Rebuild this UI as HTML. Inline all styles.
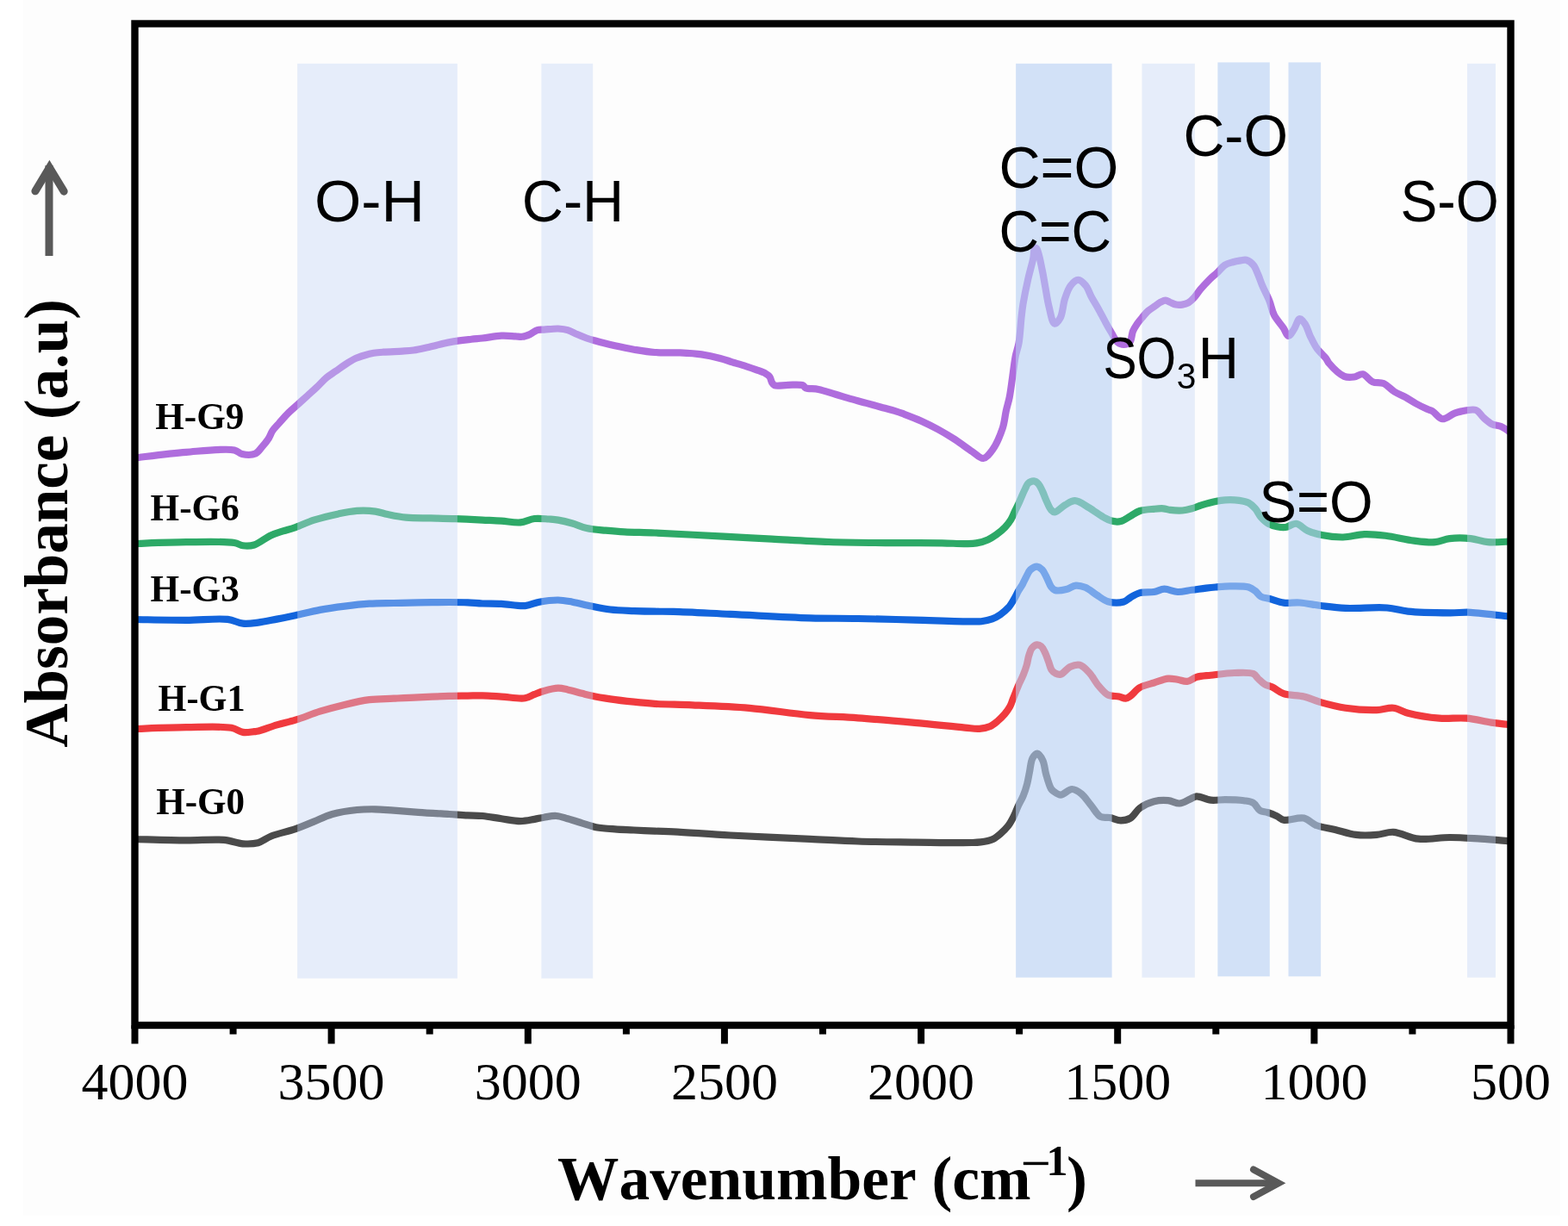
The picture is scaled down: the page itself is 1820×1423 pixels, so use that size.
<!DOCTYPE html>
<html><head><meta charset="utf-8"><title>FTIR spectra</title>
<style>html,body{margin:0;padding:0;background:#ffffff;overflow:hidden;} svg{display:block;} text{font-kerning:none;}</style>
</head><body>
<svg width="1820" height="1423" viewBox="0 0 1820 1423">
<rect x="0" y="0" width="1820" height="1423" fill="#ffffff"/>
<rect x="27" y="0" width="1784" height="1411" fill="#fdfdfd"/>
<path d="M156.5,531.5 C166.4,530.4 196.4,526.3 216.0,524.8 C234.9,523.3 261.5,520.1 272.0,522.4 C276.5,523.4 277.5,526.2 281.0,527.0 C285.4,528.0 292.5,528.3 296.5,526.5 C299.9,525.0 301.7,521.5 304.2,518.6 C306.9,515.6 309.8,512.0 311.9,508.7 C313.7,505.8 314.4,502.8 316.3,500.0 C318.4,496.9 321.2,494.3 324.0,491.1 C327.3,487.4 331.2,482.7 335.0,479.0 C338.6,475.4 342.3,472.4 346.0,469.1 C349.7,465.8 353.3,462.5 357.0,459.2 C360.6,455.9 364.3,452.7 367.9,449.3 C371.6,445.8 375.1,441.6 378.9,438.4 C382.4,435.4 386.2,433.3 389.9,430.7 C393.6,428.1 397.2,425.4 400.9,423.0 C404.5,420.6 408.1,418.2 411.9,416.4 C415.5,414.7 419.2,413.6 422.9,412.5 C426.5,411.4 430.1,410.4 433.8,409.8 C437.4,409.2 440.5,409.0 444.8,408.7 C450.9,408.2 460.4,408.0 466.8,407.6 C471.8,407.3 475.3,407.2 480.0,406.5 C485.5,405.7 491.3,404.3 497.7,402.9 C505.3,401.2 514.1,398.6 522.4,397.1 C530.6,395.6 540.2,394.6 547.1,393.8 C552.1,393.2 555.1,393.1 560.0,392.5 C566.4,391.8 575.2,390.0 582.0,389.7 C587.9,389.4 594.0,390.1 598.5,390.3 C601.6,390.5 603.6,391.1 606.2,390.8 C609.1,390.5 612.1,389.3 615.0,388.1 C618.0,386.8 620.8,384.0 623.7,383.1 C626.3,382.3 628.4,382.8 631.4,382.6 C635.9,382.3 643.0,381.3 647.9,381.5 C651.9,381.7 655.3,382.0 658.9,383.1 C662.6,384.2 666.2,386.5 669.9,388.1 C673.5,389.7 677.2,391.2 680.9,392.5 C684.5,393.8 687.6,394.6 691.9,395.8 C697.9,397.5 706.5,399.6 713.8,401.3 C721.1,402.9 728.3,404.4 735.8,405.7 C743.7,407.0 751.5,408.4 760.0,409.0 C769.3,409.7 780.0,409.0 789.4,409.4 C798.0,409.8 806.2,410.2 814.2,411.4 C821.7,412.5 829.6,414.3 836.0,416.0 C841.2,417.3 845.1,418.8 850.0,420.3 C855.3,421.9 861.6,423.7 866.5,425.3 C870.6,426.6 873.8,427.7 877.5,429.1 C881.2,430.5 885.6,431.8 888.5,433.5 C890.6,434.7 892.3,435.8 893.5,437.5 C894.8,439.3 894.9,442.3 896.0,444.0 C896.9,445.4 897.4,446.6 899.0,447.3 C902.1,448.6 909.6,446.8 915.0,446.8 C920.6,446.8 928.8,445.9 932.0,447.3 C933.6,448.0 933.4,449.5 935.0,450.2 C938.0,451.6 944.7,450.8 950.0,451.9 C956.2,453.2 963.5,455.9 970.0,457.8 C976.2,459.6 982.0,461.4 988.0,463.1 C993.9,464.8 999.7,466.3 1005.5,467.9 C1011.3,469.5 1017.2,471.1 1023.0,472.7 C1028.9,474.3 1035.8,476.1 1040.7,477.6 C1044.2,478.7 1046.1,479.5 1049.7,480.8 C1055.0,482.8 1062.9,485.8 1069.4,488.7 C1076.0,491.7 1082.5,494.9 1089.0,498.5 C1095.6,502.1 1102.2,506.1 1108.7,510.3 C1115.3,514.6 1122.5,520.2 1128.4,524.1 C1133.1,527.2 1137.2,532.4 1141.2,532.0 C1145.1,531.6 1148.7,526.6 1152.0,522.1 C1156.6,515.9 1161.2,504.6 1163.9,496.5 C1166.1,489.7 1166.4,483.1 1167.8,476.9 C1169.0,471.3 1170.6,466.7 1171.7,461.1 C1172.9,454.9 1173.7,448.5 1174.7,441.4 C1175.9,433.0 1177.1,421.8 1178.6,413.9 C1179.8,407.9 1181.5,404.2 1182.6,398.1 C1184.0,389.8 1184.6,376.9 1185.5,368.6 C1186.2,362.5 1186.5,358.9 1187.5,352.8 C1188.9,344.5 1191.3,332.6 1193.4,323.3 C1195.3,315.0 1198.0,306.2 1199.3,299.7 C1200.2,295.1 1199.7,288.9 1201.0,288.0 C1201.6,287.6 1202.5,287.8 1203.2,288.5 C1205.6,290.9 1208.1,306.3 1209.8,314.0 C1211.2,320.4 1211.8,325.2 1213.0,331.5 C1214.4,338.9 1215.6,348.1 1217.5,355.7 C1219.3,362.7 1221.1,374.8 1224.0,375.5 C1225.9,376.0 1228.9,372.1 1230.7,368.9 C1233.5,364.0 1233.8,353.5 1236.0,346.9 C1237.9,341.2 1239.7,335.3 1242.7,331.5 C1245.1,328.4 1248.6,324.9 1251.5,324.9 C1254.4,324.9 1257.8,328.6 1260.3,331.5 C1263.1,334.9 1264.5,340.3 1266.9,344.7 C1269.3,349.1 1272.0,353.2 1274.6,357.9 C1277.5,363.1 1280.6,369.4 1283.4,374.4 C1285.7,378.6 1287.7,382.2 1290.0,386.0 C1292.3,389.8 1294.3,394.8 1297.1,397.1 C1299.2,398.9 1301.9,400.0 1304.3,400.0 C1306.7,400.0 1309.7,399.0 1311.4,397.1 C1313.7,394.5 1313.4,388.1 1315.0,384.3 C1316.4,381.1 1318.2,378.4 1320.0,375.7 C1321.8,373.1 1323.6,371.0 1325.7,368.6 C1327.9,366.0 1330.4,362.9 1332.9,360.7 C1335.2,358.7 1337.6,357.4 1340.0,355.7 C1342.4,354.0 1344.8,351.9 1347.1,350.7 C1349.1,349.7 1351.0,348.6 1352.9,348.6 C1354.6,348.6 1356.1,349.9 1357.9,350.7 C1360.1,351.6 1362.6,353.1 1365.0,353.6 C1367.3,354.1 1369.8,354.0 1372.1,353.6 C1374.5,353.2 1377.0,352.7 1379.3,351.4 C1381.8,350.0 1384.1,347.5 1386.4,345.0 C1388.9,342.3 1390.8,338.9 1393.5,335.7 C1396.6,332.0 1400.6,327.7 1404.0,324.3 C1407.0,321.4 1409.9,319.2 1412.8,316.5 C1415.8,313.7 1418.4,309.8 1421.6,307.7 C1424.5,305.8 1427.9,305.1 1431.0,304.2 C1434.0,303.3 1437.2,302.8 1440.0,302.4 C1442.3,302.1 1444.3,301.2 1446.5,301.8 C1449.2,302.5 1452.5,304.9 1454.7,307.5 C1457.2,310.3 1458.5,314.6 1460.2,318.5 C1462.1,322.9 1463.6,327.8 1465.7,332.7 C1468.0,338.0 1471.2,343.6 1473.4,349.2 C1475.6,354.6 1476.2,360.5 1478.9,365.7 C1481.7,371.1 1486.9,376.5 1489.9,381.0 C1492.1,384.3 1493.4,389.7 1495.4,389.9 C1497.4,390.1 1499.9,385.2 1502.0,382.2 C1504.4,378.7 1506.1,370.5 1508.6,370.1 C1510.6,369.8 1513.3,373.9 1515.2,376.7 C1517.5,380.2 1518.6,385.5 1520.7,389.9 C1523.0,394.6 1525.3,399.8 1528.4,404.2 C1531.5,408.6 1536.8,413.0 1539.3,416.3 C1540.8,418.4 1540.8,419.6 1542.6,421.7 C1546.0,425.7 1554.7,434.6 1560.3,436.9 C1564.2,438.5 1568.1,438.0 1571.7,437.5 C1575.2,437.1 1578.5,433.7 1581.8,434.3 C1585.7,435.0 1589.1,441.4 1593.2,443.2 C1597.1,444.9 1601.8,443.4 1605.8,445.1 C1610.3,447.0 1614.2,451.9 1618.5,454.6 C1622.6,457.1 1626.9,458.6 1631.1,460.9 C1635.3,463.2 1639.4,466.2 1643.7,468.5 C1647.9,470.8 1652.9,473.2 1656.4,474.8 C1658.8,475.9 1660.4,476.0 1662.7,477.3 C1666.1,479.2 1670.0,485.7 1674.1,486.2 C1678.4,486.7 1684.2,481.2 1688.0,479.8 C1690.5,478.9 1691.6,478.4 1694.3,477.9 C1698.9,477.0 1708.4,474.3 1713.2,476.0 C1717.1,477.4 1718.9,482.2 1722.1,484.9 C1725.3,487.7 1728.7,490.8 1732.2,492.5 C1735.4,494.0 1739.0,493.6 1742.3,495.0 C1746.1,496.6 1751.6,500.8 1753.5,502.0" fill="none" stroke="#AF6DDD" stroke-width="8.2" stroke-linejoin="round" stroke-linecap="butt"/>
<path d="M156.5,631.0 C166.4,630.7 196.5,629.4 216.0,629.2 C234.9,629.0 261.0,628.1 272.0,630.0 C276.8,630.8 278.4,632.8 282.0,633.3 C286.0,633.8 290.4,633.9 295.0,632.5 C301.0,630.7 308.2,624.2 314.3,621.4 C319.3,619.1 323.8,618.0 328.6,616.4 C333.3,614.9 337.7,613.9 342.9,612.1 C349.4,609.9 356.6,606.1 364.3,603.6 C373.1,600.8 384.0,598.2 392.9,596.4 C400.5,594.8 407.1,593.4 414.3,592.9 C421.4,592.4 429.3,592.7 435.7,593.6 C441.0,594.3 444.7,596.0 450.0,597.1 C456.4,598.4 463.7,600.0 471.4,600.7 C480.2,601.5 490.5,601.2 500.0,601.4 C509.5,601.6 518.8,601.7 528.6,602.1 C538.8,602.5 550.5,603.1 560.0,603.6 C568.0,604.0 574.7,604.2 582.0,604.7 C589.3,605.2 597.3,607.0 604.0,606.4 C609.9,605.9 614.9,602.6 620.4,602.0 C625.8,601.4 632.0,602.2 636.9,602.5 C640.9,602.8 643.9,602.9 647.9,603.6 C652.9,604.4 658.9,605.9 664.4,607.5 C669.9,609.1 674.9,611.7 680.9,613.0 C687.6,614.5 695.6,615.0 702.9,615.7 C710.2,616.4 716.6,617.0 724.8,617.4 C735.1,618.0 745.9,617.9 760.0,618.5 C781.3,619.4 815.7,621.4 840.0,622.7 C860.3,623.8 876.5,624.7 895.9,625.7 C917.0,626.8 939.9,628.3 961.9,629.0 C983.9,629.7 1005.8,629.9 1027.8,630.1 C1049.8,630.3 1076.7,630.0 1093.7,630.3 C1104.4,630.5 1112.7,631.2 1120.0,631.1 C1125.2,631.0 1129.0,631.2 1133.4,630.4 C1137.9,629.6 1142.7,628.2 1146.7,626.4 C1150.4,624.8 1153.5,622.7 1156.7,620.4 C1160.1,617.9 1163.8,614.8 1166.7,611.8 C1169.3,609.0 1171.5,606.2 1173.4,603.1 C1175.3,600.0 1176.6,596.2 1178.1,593.1 C1179.5,590.3 1180.8,587.9 1182.1,585.1 C1183.5,582.1 1184.7,578.8 1186.1,575.7 C1187.4,572.7 1188.8,569.6 1190.1,567.0 C1191.2,564.8 1191.8,562.4 1193.4,561.0 C1195.1,559.5 1198.0,558.2 1200.1,558.4 C1202.0,558.6 1203.9,560.1 1205.4,561.7 C1207.3,563.8 1208.6,567.3 1210.1,570.4 C1211.8,573.9 1213.1,578.1 1214.8,581.7 C1216.4,585.2 1218.1,589.6 1220.0,591.7 C1221.3,593.1 1222.3,594.4 1224.0,594.4 C1227.0,594.4 1232.1,588.5 1236.2,586.2 C1240.0,584.1 1243.5,581.1 1247.7,581.2 C1252.7,581.3 1258.8,586.3 1264.2,589.4 C1269.8,592.6 1275.9,597.5 1280.7,600.2 C1284.2,602.1 1286.7,603.8 1290.0,604.6 C1293.4,605.5 1297.4,605.9 1301.0,605.1 C1304.8,604.2 1308.3,601.1 1312.0,599.1 C1315.7,597.1 1318.8,594.4 1323.0,593.0 C1327.8,591.4 1334.6,591.2 1339.5,590.8 C1343.5,590.4 1347.1,590.0 1350.4,590.3 C1353.2,590.5 1355.1,591.5 1358.1,591.9 C1362.1,592.4 1368.0,592.8 1372.4,592.5 C1376.3,592.2 1379.8,591.3 1383.4,590.3 C1387.1,589.3 1390.3,587.7 1394.4,586.4 C1399.3,584.9 1405.9,583.0 1410.9,582.0 C1414.9,581.2 1417.9,580.6 1421.9,580.4 C1426.8,580.1 1433.5,580.2 1438.4,580.9 C1442.4,581.5 1446.1,582.1 1449.3,583.7 C1452.3,585.3 1454.7,587.7 1457.0,590.3 C1459.5,593.1 1461.0,597.3 1463.6,600.2 C1466.2,603.1 1469.2,606.1 1472.4,607.9 C1475.4,609.6 1479.0,610.5 1482.3,611.2 C1485.5,611.9 1488.6,612.4 1492.0,612.0 C1495.9,611.5 1500.4,607.3 1504.5,607.8 C1509.0,608.3 1512.9,613.8 1517.7,616.0 C1522.8,618.3 1528.1,619.8 1534.2,621.0 C1541.5,622.5 1550.7,623.6 1558.9,623.5 C1567.1,623.4 1575.4,620.5 1583.6,620.2 C1591.8,619.9 1599.5,620.7 1608.3,621.8 C1618.5,623.0 1631.1,626.4 1641.3,627.6 C1650.1,628.7 1658.6,629.9 1666.0,629.2 C1672.1,628.7 1676.4,625.8 1682.5,625.1 C1689.9,624.2 1699.5,624.3 1707.2,625.1 C1714.2,625.8 1719.9,628.6 1727.0,629.2 C1735.2,629.9 1749.1,628.5 1753.5,628.4" fill="none" stroke="#2DA967" stroke-width="8.2" stroke-linejoin="round" stroke-linecap="butt"/>
<path d="M156.5,719.0 C166.4,719.1 197.2,719.8 216.0,719.8 C232.9,719.8 252.3,717.4 264.3,718.9 C271.7,719.8 276.0,723.1 281.9,723.7 C287.7,724.3 293.3,723.4 299.5,722.6 C306.4,721.8 314.1,720.0 321.4,718.6 C328.6,717.2 335.2,715.9 342.9,714.3 C351.7,712.4 361.9,709.7 371.4,707.9 C380.9,706.1 390.5,704.8 400.0,703.6 C409.5,702.4 419.1,701.3 428.6,700.7 C438.1,700.1 447.6,700.2 457.1,700.0 C466.6,699.8 475.6,699.5 485.7,699.3 C496.9,699.1 511.0,699.0 521.4,699.0 C529.5,699.0 536.1,699.0 542.9,699.3 C548.9,699.6 553.9,700.2 560.0,700.5 C566.9,700.8 574.3,700.5 582.0,700.9 C590.7,701.3 601.6,703.8 609.5,703.1 C615.8,702.5 620.1,699.8 626.0,698.7 C632.7,697.5 641.1,696.4 647.9,696.5 C653.8,696.6 658.5,697.7 664.4,698.7 C671.2,699.9 679.1,702.1 686.4,703.6 C693.7,705.1 700.6,706.6 708.4,707.5 C717.0,708.5 726.9,708.7 735.8,709.1 C744.1,709.4 752.1,709.6 760.0,709.7 C767.5,709.8 772.6,709.6 781.8,709.9 C797.8,710.3 823.9,711.8 847.7,712.9 C875.9,714.2 913.1,716.5 940.0,717.3 C961.0,717.9 976.5,717.6 995.9,718.0 C1017.0,718.4 1039.9,719.0 1061.9,719.6 C1083.9,720.2 1115.0,721.3 1127.8,721.4 C1133.1,721.4 1135.2,721.7 1139.0,721.2 C1143.1,720.7 1147.8,719.8 1151.6,718.4 C1155.1,717.1 1158.0,715.4 1161.1,713.3 C1164.4,711.0 1167.9,708.1 1170.6,705.1 C1173.1,702.2 1175.0,698.8 1176.9,695.6 C1178.8,692.5 1180.3,689.1 1182.0,686.1 C1183.6,683.2 1185.5,680.6 1187.0,677.9 C1188.4,675.3 1189.4,672.9 1190.8,670.3 C1192.3,667.4 1193.6,663.5 1195.9,661.4 C1198.0,659.5 1201.1,657.5 1203.5,657.6 C1205.7,657.7 1208.0,659.6 1209.8,661.4 C1211.9,663.6 1213.3,667.2 1214.9,670.3 C1216.7,673.7 1218.1,678.4 1220.0,681.0 C1221.4,682.8 1222.4,684.3 1224.5,685.0 C1227.6,686.0 1233.6,685.0 1237.7,684.0 C1241.6,683.1 1245.0,679.9 1248.7,679.6 C1252.3,679.3 1256.0,680.3 1259.7,681.8 C1264.1,683.6 1268.5,687.7 1272.9,690.5 C1277.2,693.2 1281.1,696.8 1286.0,698.2 C1291.4,699.7 1299.6,699.8 1304.3,698.5 C1307.6,697.6 1309.2,695.2 1312.0,693.6 C1315.3,691.7 1318.8,689.2 1323.0,688.1 C1327.8,686.8 1334.5,687.8 1339.5,687.0 C1343.9,686.3 1347.2,683.8 1351.5,683.7 C1356.3,683.6 1361.7,686.8 1366.9,687.0 C1372.3,687.2 1377.9,685.5 1383.4,684.8 C1388.9,684.1 1395.0,683.2 1399.9,682.6 C1403.9,682.1 1406.9,681.8 1410.9,681.5 C1415.8,681.1 1421.5,680.4 1427.4,680.4 C1434.2,680.3 1444.0,679.9 1449.3,681.5 C1452.7,682.5 1454.6,684.1 1457.0,685.9 C1459.4,687.7 1460.9,691.0 1463.6,692.5 C1466.6,694.2 1470.6,694.1 1474.6,695.2 C1479.3,696.5 1484.6,698.9 1490.0,699.6 C1495.9,700.4 1502.0,699.0 1508.6,699.5 C1516.2,700.0 1524.4,702.0 1532.8,703.0 C1542.0,704.1 1550.9,705.4 1561.8,705.9 C1575.8,706.5 1596.8,704.4 1610.1,705.5 C1619.6,706.3 1624.8,708.6 1634.3,709.6 C1647.6,711.0 1669.3,711.2 1682.7,711.3 C1692.1,711.4 1697.5,710.4 1706.9,710.8 C1719.9,711.4 1745.7,715.0 1753.5,715.8" fill="none" stroke="#1264DC" stroke-width="8.2" stroke-linejoin="round" stroke-linecap="butt"/>
<path d="M156.5,846.0 C166.4,845.7 196.8,844.4 216.0,844.2 C234.1,844.0 257.1,842.6 268.7,844.8 C274.7,846.0 277.4,849.2 281.9,849.9 C286.2,850.6 291.7,849.5 295.0,849.2 C297.1,849.0 297.8,849.1 300.0,848.6 C304.7,847.5 314.2,843.6 321.4,841.4 C328.5,839.3 335.3,838.0 342.9,835.7 C351.8,833.0 361.8,828.7 371.4,825.7 C380.9,822.8 390.4,820.2 400.0,817.9 C409.5,815.6 419.0,813.3 428.6,812.1 C438.1,810.9 447.6,811.2 457.1,810.7 C466.6,810.2 475.6,809.7 485.7,809.3 C496.9,808.8 511.0,808.2 521.4,807.9 C529.5,807.7 536.1,807.7 542.9,807.6 C548.9,807.5 553.9,807.2 560.0,807.3 C566.9,807.4 574.3,808.1 582.0,808.6 C590.7,809.1 602.5,811.4 609.5,810.3 C614.1,809.6 616.7,807.3 620.4,805.9 C624.0,804.5 627.3,803.1 631.4,802.0 C636.3,800.6 642.9,798.8 647.9,798.7 C651.9,798.6 654.9,799.6 658.9,800.4 C663.9,801.4 670.4,803.5 675.4,804.8 C679.4,805.8 682.1,806.6 686.4,807.5 C692.5,808.8 700.6,810.2 708.4,811.4 C717.0,812.7 726.9,813.8 735.8,814.7 C744.1,815.6 750.7,816.3 760.0,816.9 C772.4,817.7 787.6,817.6 803.7,818.3 C823.4,819.1 847.4,819.9 869.7,821.8 C892.8,823.8 917.9,828.2 940.0,830.1 C959.7,831.8 976.5,831.9 995.9,833.3 C1017.0,834.8 1040.6,836.9 1061.9,838.8 C1081.9,840.6 1106.4,843.4 1120.0,844.6 C1127.3,845.2 1131.7,846.2 1136.9,845.8 C1141.4,845.4 1145.9,844.5 1149.5,842.9 C1152.7,841.5 1155.2,839.3 1157.9,837.0 C1160.8,834.5 1163.9,831.4 1166.4,828.5 C1168.7,825.8 1170.7,823.0 1172.3,820.1 C1173.8,817.4 1174.5,814.5 1175.6,811.7 C1176.7,808.9 1177.9,806.0 1179.0,803.2 C1180.1,800.4 1181.1,797.8 1182.4,794.8 C1183.9,791.4 1186.0,787.6 1187.5,783.8 C1189.1,780.0 1190.6,775.9 1191.7,772.0 C1192.8,768.3 1193.1,764.5 1194.2,761.1 C1195.2,758.1 1195.9,754.8 1197.6,752.6 C1199.1,750.7 1201.5,748.7 1203.5,748.4 C1205.2,748.2 1207.1,749.0 1208.5,750.1 C1210.3,751.5 1211.4,754.3 1212.7,756.9 C1214.3,760.0 1215.7,764.3 1217.0,767.8 C1218.3,771.1 1218.9,775.1 1220.5,777.5 C1221.7,779.3 1223.3,780.6 1225.0,781.5 C1226.8,782.4 1228.9,783.2 1231.1,782.7 C1234.4,781.9 1238.2,775.8 1242.1,774.0 C1245.6,772.4 1249.6,771.0 1253.1,771.8 C1257.0,772.7 1260.7,776.9 1264.1,780.5 C1268.1,784.7 1271.2,791.4 1275.1,795.9 C1278.6,799.9 1281.9,804.4 1286.0,806.5 C1289.8,808.4 1295.1,807.7 1298.8,808.5 C1301.7,809.1 1304.2,810.9 1306.5,810.7 C1308.5,810.5 1310.0,809.3 1312.0,807.9 C1315.2,805.7 1318.7,800.5 1323.0,798.0 C1327.7,795.3 1334.0,794.2 1339.5,792.5 C1345.0,790.8 1350.9,788.1 1355.9,787.6 C1359.9,787.2 1363.2,788.2 1366.9,788.7 C1370.6,789.3 1374.3,791.3 1377.9,790.9 C1381.6,790.5 1384.8,787.1 1388.9,785.9 C1393.8,784.5 1399.2,784.4 1405.4,783.7 C1413.4,782.8 1424.2,781.2 1432.9,781.0 C1440.6,780.8 1450.1,780.0 1454.8,782.1 C1457.6,783.3 1458.3,785.7 1460.3,787.6 C1462.6,789.7 1465.2,792.5 1468.0,794.2 C1470.7,795.8 1473.6,796.0 1476.8,797.5 C1480.8,799.4 1484.8,803.4 1490.0,805.2 C1496.5,807.5 1506.0,806.7 1513.4,808.5 C1520.3,810.1 1525.6,813.1 1532.8,815.1 C1541.4,817.5 1551.5,820.2 1561.8,821.7 C1573.1,823.4 1587.8,824.4 1598.0,824.1 C1605.5,823.9 1611.2,821.0 1617.4,821.7 C1623.3,822.3 1627.5,825.9 1634.3,827.7 C1644.0,830.2 1658.9,832.7 1670.6,833.7 C1681.4,834.6 1691.8,832.8 1702.0,833.7 C1711.9,834.5 1721.9,837.3 1731.0,838.6 C1739.0,839.7 1749.8,840.8 1753.5,841.2" fill="none" stroke="#F03A3E" stroke-width="8.2" stroke-linejoin="round" stroke-linecap="butt"/>
<path d="M156.5,974.0 C166.4,974.2 197.7,975.3 216.0,975.4 C231.7,975.5 247.8,973.8 259.9,974.9 C268.5,975.7 274.9,978.8 281.9,979.3 C288.1,979.7 294.0,979.7 299.5,978.2 C304.9,976.7 308.8,972.9 314.8,970.5 C322.6,967.4 334.2,965.1 342.9,962.1 C350.6,959.4 357.2,956.4 364.3,953.6 C371.4,950.7 377.9,947.2 385.7,945.0 C394.4,942.5 405.4,940.9 414.3,940.0 C421.9,939.2 428.6,939.2 435.7,939.3 C442.8,939.4 449.5,940.2 457.1,940.7 C465.9,941.3 475.6,942.2 485.7,942.9 C496.9,943.7 511.0,944.4 521.4,945.0 C529.5,945.5 536.1,946.1 542.9,946.4 C548.9,946.7 554.0,946.4 560.0,947.0 C566.9,947.6 574.7,949.3 582.0,950.3 C589.3,951.3 597.2,953.1 604.0,953.1 C609.9,953.1 615.5,951.7 620.4,950.9 C624.4,950.2 627.5,949.3 631.4,948.7 C635.8,948.0 641.1,946.7 645.7,947.0 C650.2,947.3 654.3,949.0 658.9,950.3 C664.1,951.7 669.9,953.6 675.4,955.3 C680.9,956.9 686.0,959.0 691.9,960.2 C698.6,961.5 706.5,961.9 713.8,962.4 C721.1,963.0 728.3,963.1 735.8,963.5 C743.7,963.9 752.1,964.3 760.0,964.6 C767.5,964.9 772.6,964.9 781.8,965.3 C797.8,966.1 823.9,968.2 847.7,969.5 C875.9,971.1 913.1,972.5 940.0,973.8 C961.0,974.8 976.5,975.9 995.9,976.5 C1017.0,977.2 1039.9,977.3 1061.9,977.6 C1083.9,977.8 1115.3,978.3 1127.8,978.0 C1132.8,977.9 1134.6,977.9 1138.3,977.4 C1142.6,976.8 1148.0,976.0 1152.0,974.2 C1155.5,972.6 1158.2,970.3 1161.1,967.8 C1164.3,965.1 1167.6,962.0 1170.2,958.6 C1172.8,955.3 1174.7,951.5 1176.6,947.7 C1178.6,943.7 1180.2,939.0 1182.1,934.9 C1183.9,931.1 1186.0,927.8 1187.6,923.9 C1189.4,919.6 1190.9,914.8 1192.1,910.2 C1193.3,905.7 1193.9,901.3 1194.9,896.5 C1196.0,891.3 1196.4,883.9 1198.5,880.1 C1199.9,877.5 1202.2,874.5 1204.0,874.6 C1206.1,874.7 1208.8,879.4 1210.4,882.8 C1212.4,887.0 1212.6,893.1 1214.1,898.4 C1215.7,904.0 1218.0,912.2 1220.0,915.5 C1221.0,917.1 1221.7,917.5 1223.0,918.5 C1225.0,919.9 1228.1,922.6 1231.1,922.6 C1235.0,922.6 1240.1,916.0 1244.3,916.0 C1248.1,916.0 1251.9,918.8 1255.3,921.5 C1259.3,924.7 1262.6,930.3 1266.3,934.7 C1270.0,939.1 1273.1,945.7 1277.3,947.9 C1280.6,949.7 1284.4,948.3 1288.2,949.0 C1292.3,949.7 1296.9,952.3 1301.0,952.3 C1304.8,952.3 1308.6,951.6 1312.0,949.6 C1316.0,947.3 1318.6,941.2 1323.0,938.0 C1327.7,934.6 1333.9,931.7 1339.5,930.3 C1344.8,928.9 1350.8,928.7 1355.9,929.2 C1360.6,929.6 1364.8,932.8 1369.1,932.5 C1373.3,932.2 1377.6,929.1 1381.2,927.6 C1384.1,926.4 1385.8,924.5 1388.9,924.3 C1393.3,924.0 1399.9,928.1 1405.4,928.7 C1410.9,929.3 1416.0,928.1 1421.9,928.1 C1428.7,928.1 1437.8,928.3 1443.8,929.2 C1448.1,929.9 1451.7,930.1 1454.8,932.0 C1457.9,933.9 1459.5,939.0 1462.5,940.8 C1465.1,942.4 1468.2,942.0 1471.3,943.0 C1474.8,944.1 1479.0,945.8 1482.3,947.4 C1485.1,948.8 1486.6,951.1 1490.0,951.8 C1495.6,953.0 1506.7,948.1 1513.4,949.6 C1519.0,950.8 1522.4,955.8 1527.9,958.0 C1534.3,960.5 1542.3,961.1 1549.7,962.9 C1557.6,964.8 1565.8,967.9 1573.9,968.9 C1581.9,969.9 1590.4,969.5 1598.0,968.9 C1604.8,968.4 1610.3,965.4 1617.4,965.8 C1626.1,966.3 1636.1,972.6 1646.4,973.7 C1657.7,974.9 1670.6,972.0 1682.7,972.0 C1694.8,972.0 1707.0,973.0 1718.9,973.7 C1730.6,974.4 1747.7,975.9 1753.5,976.3" fill="none" stroke="#4A4A4A" stroke-width="8.2" stroke-linejoin="round" stroke-linecap="butt"/>
<rect x="345.2" y="73.8" width="185.7" height="1061.8" fill="rgba(195,213,244,0.40)"/>
<rect x="628.4" y="73.8" width="59.8" height="1061.8" fill="rgba(195,213,244,0.40)"/>
<rect x="1179.1" y="73.8" width="111.5" height="1060.8" fill="rgba(183,208,244,0.61)"/>
<rect x="1325.5" y="73.8" width="61.3" height="1060.8" fill="rgba(195,213,244,0.40)"/>
<rect x="1413.4" y="72.4" width="60.4" height="1060.9" fill="rgba(183,208,244,0.61)"/>
<rect x="1495.5" y="72.4" width="37.6" height="1060.9" fill="rgba(183,208,244,0.61)"/>
<rect x="1703" y="73.8" width="33.0" height="1060.8" fill="rgba(195,213,244,0.40)"/>
<text x="365.05" y="256.66" font-family="'Liberation Sans', Arial, sans-serif" font-size="68.20" textLength="127.97" lengthAdjust="spacingAndGlyphs" fill="#000">O-H</text>
<text x="605.76" y="256.66" font-family="'Liberation Sans', Arial, sans-serif" font-size="68.20" textLength="118.48" lengthAdjust="spacingAndGlyphs" fill="#000">C-H</text>
<text x="1159.45" y="218.30" font-family="'Liberation Sans', Arial, sans-serif" font-size="68.20" textLength="138.90" lengthAdjust="spacingAndGlyphs" fill="#000">C=O</text>
<text x="1159.45" y="291.92" font-family="'Liberation Sans', Arial, sans-serif" font-size="68.20" textLength="130.68" lengthAdjust="spacingAndGlyphs" fill="#000">C=C</text>
<text x="1373.43" y="181.28" font-family="'Liberation Sans', Arial, sans-serif" font-size="68.20" textLength="121.55" lengthAdjust="spacingAndGlyphs" fill="#000">C-O</text>
<text x="1625.43" y="256.87" font-family="'Liberation Sans', Arial, sans-serif" font-size="68.20" textLength="114.24" lengthAdjust="spacingAndGlyphs" fill="#000">S-O</text>
<text x="1461.46" y="605.89" font-family="'Liberation Sans', Arial, sans-serif" font-size="68.20" textLength="132.19" lengthAdjust="spacingAndGlyphs" fill="#000">S=O</text>
<text x="1280.47" y="439.36" font-family="'Liberation Sans', Arial, sans-serif" font-size="68.20" textLength="84.75" lengthAdjust="spacingAndGlyphs" fill="#000">SO</text>
<text x="1365.76" y="451.07" font-family="'Liberation Sans', Arial, sans-serif" font-size="43.19" textLength="22.63" lengthAdjust="spacingAndGlyphs" fill="#000">3</text>
<text x="1390.68" y="439.38" font-family="'Liberation Sans', Arial, sans-serif" font-size="68.20" textLength="47.25" lengthAdjust="spacingAndGlyphs" fill="#000">H</text>
<text x="180.20" y="497.67" font-family="'Liberation Serif', 'Times New Roman', serif" font-weight="bold" font-size="43.50" textLength="103.22" lengthAdjust="spacingAndGlyphs" fill="#000">H-G9</text>
<text x="174.58" y="604.27" font-family="'Liberation Serif', 'Times New Roman', serif" font-weight="bold" font-size="43.50" textLength="103.23" lengthAdjust="spacingAndGlyphs" fill="#000">H-G6</text>
<text x="174.60" y="698.29" font-family="'Liberation Serif', 'Times New Roman', serif" font-weight="bold" font-size="43.50" textLength="103.23" lengthAdjust="spacingAndGlyphs" fill="#000">H-G3</text>
<text x="183.51" y="824.71" font-family="'Liberation Serif', 'Times New Roman', serif" font-weight="bold" font-size="43.50" textLength="101.08" lengthAdjust="spacingAndGlyphs" fill="#000">H-G1</text>
<text x="181.20" y="944.59" font-family="'Liberation Serif', 'Times New Roman', serif" font-weight="bold" font-size="43.50" textLength="102.92" lengthAdjust="spacingAndGlyphs" fill="#000">H-G0</text>
<rect x="156.5" y="27.5" width="1597" height="1162.5" fill="none" stroke="#000" stroke-width="8.4" stroke-linejoin="miter"/>
<line x1="156.5" y1="1190" x2="156.5" y2="1211.5" stroke="#000" stroke-width="8"/>
<text x="156.5" y="1275.5" font-family="'Liberation Serif', 'Times New Roman', serif" font-size="62" text-anchor="middle" fill="#000">4000</text>
<line x1="384.6" y1="1190" x2="384.6" y2="1211.5" stroke="#000" stroke-width="8"/>
<text x="384.6" y="1275.5" font-family="'Liberation Serif', 'Times New Roman', serif" font-size="62" text-anchor="middle" fill="#000">3500</text>
<line x1="612.8" y1="1190" x2="612.8" y2="1211.5" stroke="#000" stroke-width="8"/>
<text x="612.8" y="1275.5" font-family="'Liberation Serif', 'Times New Roman', serif" font-size="62" text-anchor="middle" fill="#000">3000</text>
<line x1="840.9" y1="1190" x2="840.9" y2="1211.5" stroke="#000" stroke-width="8"/>
<text x="840.9" y="1275.5" font-family="'Liberation Serif', 'Times New Roman', serif" font-size="62" text-anchor="middle" fill="#000">2500</text>
<line x1="1069.1" y1="1190" x2="1069.1" y2="1211.5" stroke="#000" stroke-width="8"/>
<text x="1069.1" y="1275.5" font-family="'Liberation Serif', 'Times New Roman', serif" font-size="62" text-anchor="middle" fill="#000">2000</text>
<line x1="1297.2" y1="1190" x2="1297.2" y2="1211.5" stroke="#000" stroke-width="8"/>
<text x="1297.2" y="1275.5" font-family="'Liberation Serif', 'Times New Roman', serif" font-size="62" text-anchor="middle" fill="#000">1500</text>
<line x1="1525.4" y1="1190" x2="1525.4" y2="1211.5" stroke="#000" stroke-width="8"/>
<text x="1525.4" y="1275.5" font-family="'Liberation Serif', 'Times New Roman', serif" font-size="62" text-anchor="middle" fill="#000">1000</text>
<line x1="1753.5" y1="1190" x2="1753.5" y2="1211.5" stroke="#000" stroke-width="8"/>
<text x="1753.5" y="1275.5" font-family="'Liberation Serif', 'Times New Roman', serif" font-size="62" text-anchor="middle" fill="#000">500</text>
<line x1="270.6" y1="1190" x2="270.6" y2="1200.5" stroke="#000" stroke-width="8"/>
<line x1="498.7" y1="1190" x2="498.7" y2="1200.5" stroke="#000" stroke-width="8"/>
<line x1="726.9" y1="1190" x2="726.9" y2="1200.5" stroke="#000" stroke-width="8"/>
<line x1="955.0" y1="1190" x2="955.0" y2="1200.5" stroke="#000" stroke-width="8"/>
<line x1="1183.1" y1="1190" x2="1183.1" y2="1200.5" stroke="#000" stroke-width="8"/>
<line x1="1411.3" y1="1190" x2="1411.3" y2="1200.5" stroke="#000" stroke-width="8"/>
<line x1="1639.4" y1="1190" x2="1639.4" y2="1200.5" stroke="#000" stroke-width="8"/>
<text x="647" y="1392.3" font-family="'Liberation Serif', 'Times New Roman', serif" font-weight="bold" font-size="72" textLength="549.5" lengthAdjust="spacingAndGlyphs" fill="#000">Wavenumber (cm</text>
<text x="1184.5" y="1366.8" font-family="'Liberation Serif', 'Times New Roman', serif" font-weight="bold" font-size="50" textLength="35.5" lengthAdjust="spacingAndGlyphs" fill="#000">&#8722;</text>
<text x="1214.6" y="1364" font-family="'Liberation Serif', 'Times New Roman', serif" font-weight="bold" font-size="50" fill="#000">1</text>
<text x="1238" y="1392.3" font-family="'Liberation Serif', 'Times New Roman', serif" font-weight="bold" font-size="72" fill="#000">)</text>
<text transform="translate(78.3,867.7) rotate(-90)" x="0" y="0" font-family="'Liberation Serif', 'Times New Roman', serif" font-weight="bold" font-size="71" fill="#000">Absorbance (a.u)</text>
<line x1="57" y1="192" x2="57" y2="297" stroke="#595959" stroke-width="9"/>
<polyline points="40.9,221.8 57.4,194.5 74.2,222.2" fill="none" stroke="#595959" stroke-width="9" stroke-linecap="round" stroke-linejoin="miter"/>
<line x1="1387.5" y1="1373.3" x2="1480" y2="1373.3" stroke="#595959" stroke-width="8"/>
<polyline points="1455,1357.5 1484,1373.3 1455,1389" fill="none" stroke="#595959" stroke-width="8" stroke-linecap="round" stroke-linejoin="miter"/>
</svg>
</body></html>
